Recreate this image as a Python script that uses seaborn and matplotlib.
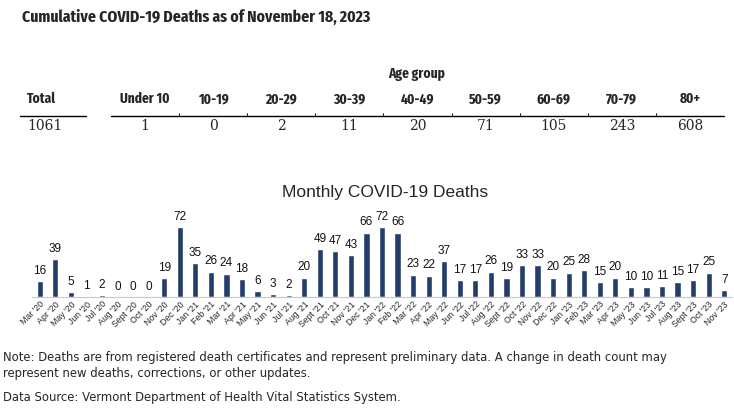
import numpy as np
import pandas as pd
import seaborn as sns
import matplotlib.pyplot as plt

# age group table
age_groups = ["Under 10", "10-19", "20-29", "30-39", "40-49", "50-59", "60-69", "70-79", "80+"]
age_deaths = [1, 0, 2, 11, 20, 71, 105, 243, 608]
total_deaths = 1061

# monthly deaths
months = ["Mar '20", "Apr '20", "May '20", "Jun '20", "Jul '20", "Aug '20", "Sept '20", "Oct '20",
          "Nov '20", "Dec '20", "Jan '21", "Feb '21", "Mar '21", "Apr '21", "May '21", "Jun '21",
          "Jul '21", "Aug '21", "Sept '21", "Oct '21", "Nov '21", "Dec '21", "Jan '22", "Feb '22",
          "Mar '22", "Apr '22", "May '22", "Jun '22", "Jul '22", "Aug '22", "Sept '22", "Oct '22",
          "Nov '22", "Dec '22", "Jan '23", "Feb '23", "Mar '23", "Apr '23", "May '23", "Jun '23",
          "Jul '23", "Aug '23", "Sept '23", "Oct '23", "Nov '23"]
monthly_deaths = [16, 39, 5, 1, 2, 0, 0, 0, 19, 72, 35, 26, 24, 18, 6, 3, 2, 20, 49, 47, 43, 66, 72, 66,
                  23, 22, 37, 17, 17, 26, 19, 33, 33, 20, 25, 28, 15, 20, 10, 10, 11, 15, 17, 25, 7]

navy = "#253d6b"
narrow = ["Fira Sans Extra Condensed", "Roboto Condensed", "DejaVu Sans"]
serif = ["DejaVu Serif"]

sns.set_style("white")
plt.rcParams['font.family'] = ["Liberation Sans", "DejaVu Sans"]

W, H = 734, 412
fig = plt.figure(figsize=(W / 100, H / 100), dpi=100)

def px(x, y):
    return x / W, 1 - y / H

fig.text(*px(22, 17), "Cumulative COVID-19 Deaths as of November 18, 2023", family=narrow,
         fontweight="bold", fontsize=12.3, va="center", ha="left")

# table
hdr = dict(family=narrow, fontweight="bold", fontsize=10.5, va="center")
fig.text(*px(417, 74), "Age group", ha="center", **hdr)
fig.text(*px(27, 99), "Total", ha="left", **hdr)
fig.text(*px(27, 126), str(total_deaths), family=serif, fontsize=10, ha="left", va="center")
left, right = 111, 724
cw = (right - left) / len(age_groups)
for i, (g, v) in enumerate(zip(age_groups, age_deaths)):
    cx = left + cw * (i + 0.5)
    fig.text(*px(cx, 99), g, ha="center", **hdr)
    fig.text(*px(cx, 126), str(v), family=serif, fontsize=10, ha="center", va="center")
line_kw = dict(color="black", lw=1.0, transform=fig.transFigure)
fig.add_artist(plt.Line2D([20 / W, 86 / W], [1 - 116 / H] * 2, **line_kw))
fig.add_artist(plt.Line2D([left / W, right / W], [1 - 116 / H] * 2, **line_kw))
for i in range(1, len(age_groups)):
    x = (left + cw * i) / W
    fig.add_artist(plt.Line2D([x, x], [1 - 116 / H, 1 - 113 / H], color="black", lw=0.6,
                              transform=fig.transFigure))

# bar chart
ax = fig.add_axes([32 / W, 1 - 297 / H, (732 - 32) / W, 78 / H])
df = pd.DataFrame({"month": months, "deaths": monthly_deaths})
sns.barplot(data=df, x="month", y="deaths", color=navy, width=0.4, saturation=1, ax=ax)
ax.set_xlim(-0.5, len(months) - 0.5)
ax.set_ylim(0, 80)
for i, v in enumerate(monthly_deaths):
    ax.annotate(str(v), (i, v), xytext=(0, 3), textcoords="offset points", ha="center", va="bottom",
                fontsize=8.5, color="#111111")
ax.set_xlabel("")
ax.set_ylabel("")
ax.set_yticks([])
for s in ["top", "right", "left"]:
    ax.spines[s].set_visible(False)
ax.spines["bottom"].set_color("#c8c8c8")
ax.set_xticks(range(len(months)))
ax.set_xticklabels(months, rotation=45, ha="right", rotation_mode="anchor", fontsize=6.3)
ax.tick_params(axis="x", length=0, pad=2)
ax.patch.set_alpha(0)
fig.text(*px(385, 193), "Monthly COVID-19 Deaths", fontsize=12.5, ha="center", va="center")

# notes
note_font = ["DejaVu Sans"]
fig.text(*px(3, 358), "Note: Deaths are from registered death certificates and represent preliminary data. "
         "A change in death count may", family=note_font, fontsize=8.4, ha="left", va="center")
fig.text(*px(3, 374), "represent new deaths, corrections, or other updates.", family=note_font,
         fontsize=8.4, ha="left", va="center")
fig.text(*px(3, 398), "Data Source: Vermont Department of Health Vital Statistics System.", family=note_font,
         fontsize=8.4, ha="left", va="center")

fig.savefig("out.png", dpi=100)
